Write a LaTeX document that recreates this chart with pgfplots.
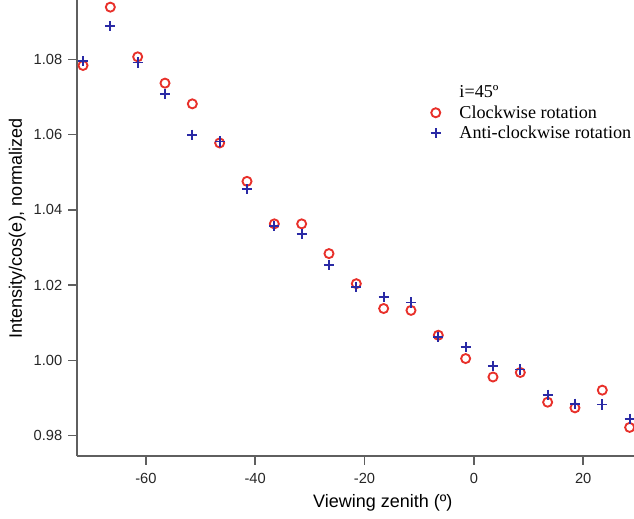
\documentclass[border=0pt]{standalone}
\usepackage{pgfplots}
\pgfplotsset{compat=1.18}
\usepackage{fontspec}
\setmainfont{Liberation Sans}
\newfontfamily\timesfont{Liberation Serif}
\definecolor{cwred}{RGB}{232,48,42}
\definecolor{acblue}{RGB}{42,42,165}
\definecolor{axgray}{RGB}{95,95,95}
\begin{document}
\begin{tikzpicture}[x=1pt,y=1pt]
\path[use as bounding box] (-57.75,-46.5) rectangle (417.75,342);
\begin{axis}[
  at={(0,0)}, anchor=south west,
  scale only axis, width=417.75pt, height=342pt,
  xmin=-72.6, xmax=29.3, ymin=0.9746, ymax=1.0958,
  axis x line*=bottom, axis y line*=left,
  axis line style={axgray, line width=1.1pt, -},
  every tick/.style={axgray, line width=1.1pt},
  tick align=outside, major tick length=6.5pt,
  xtick={-60,-40,-20,0,20}, ytick={0.98,1.00,1.02,1.04,1.06,1.08},
  yticklabel style={/pgf/number format/fixed, /pgf/number format/fixed zerofill, /pgf/number format/precision=2, xshift=-1pt},
  /pgf/number format/assume math mode=true,
  tick label style={font=\fontsize{11}{13}\selectfont, text=black!85},
  xticklabel style={yshift=-3pt},
  xlabel={Viewing zenith (º)},
  ylabel={Intensity/cos(e), normalized},
  label style={font=\fontsize{13.5}{15}\selectfont},
  xlabel style={at={(rel axis cs:0.549,0)}, anchor=north, yshift=-25pt},
  ylabel style={at={(rel axis cs:0,0.5)}, anchor=south, yshift=35pt},
  clip=false,
  legend style={draw=none, fill=none, font=\timesfont\fontsize{13.6}{15}\selectfont,
    at={(rel axis cs:0.616,0.825)}, anchor=north west, row sep=0.5pt,
    column sep=8pt,
    legend cell align=left,
    nodes={inner xsep=6pt}},
]
\addlegendimage{empty legend}
\addlegendentry{i=45º}
\addplot[only marks, mark=o, mark size=3.4pt, cwred, line width=1.4pt] coordinates {
(-71.5,1.0784) (-66.5,1.0939) (-61.5,1.0807) (-56.5,1.0737) (-51.5,1.0682)
(-46.5,1.0578) (-41.5,1.0476) (-36.5,1.0363) (-31.5,1.0363) (-26.5,1.0284)
(-21.5,1.0204) (-16.5,1.0138) (-11.5,1.0133) (-6.5,1.0067) (-1.5,1.0005)
(3.5,0.9956) (8.5,0.9968) (13.5,0.9889) (18.5,0.9874) (23.5,0.9921) (28.5,0.9822)
};
\addlegendentry{Clockwise rotation}
\addplot[only marks, mark=+, mark size=3.8pt, acblue, line width=1.4pt] coordinates {
(-71.5,1.0796) (-66.5,1.0889) (-61.5,1.0792) (-56.5,1.0708) (-51.5,1.0600)
(-46.5,1.0582) (-41.5,1.0455) (-36.5,1.0358) (-31.5,1.0337) (-26.5,1.0254)
(-21.5,1.0195) (-16.5,1.0168) (-11.5,1.0154) (-6.5,1.0062) (-1.5,1.0035)
(3.5,0.9986) (8.5,0.9976) (13.5,0.9909) (18.5,0.9885) (23.5,0.9883) (28.5,0.9845)
};
\addlegendentry{Anti-clockwise rotation}
\end{axis}
\end{tikzpicture}
\end{document}
